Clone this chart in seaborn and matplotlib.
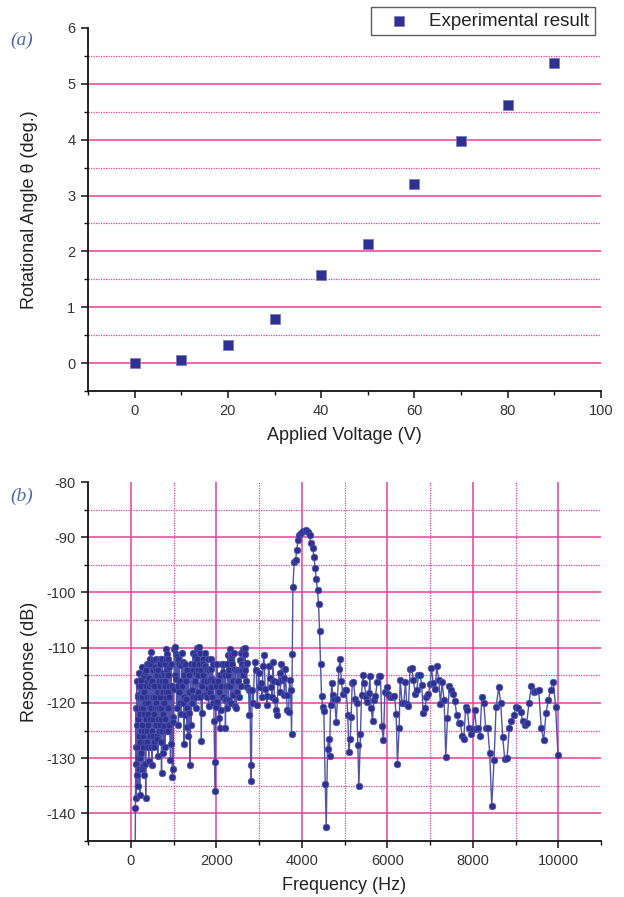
import matplotlib
matplotlib.use("Agg")
import matplotlib.pyplot as plt
import seaborn as sns
import pandas as pd
from matplotlib.ticker import FixedLocator

# ---------------- data: panel (a) ----------------
voltage = [0, 10, 20, 30, 40, 50, 60, 70, 80, 90]
angle = [0.0, 0.06, 0.32, 0.79, 1.58, 2.14, 3.20, 3.97, 4.63, 5.37]

# ---------------- data: panel (b) ----------------
freq_low = [100, 110, 120, 130, 140, 150, 160, 170, 180, 190, 200, 210, 220, 230, 240,
            250, 260, 270, 280, 290, 300, 310, 320, 330, 340, 350, 360, 370, 380, 390,
            400, 410, 420, 430, 440, 450, 460, 470, 480, 490, 500, 510, 520, 530, 540,
            550, 560, 570, 580, 590, 600, 610, 620, 630, 640, 650, 660, 670, 680, 690,
            700, 710, 720, 730, 740, 750, 760, 770, 780, 790, 800, 810, 820, 830, 840,
            850, 860, 870, 880, 890, 900, 927, 940, 951, 962, 974, 984, 990, 998, 1010,
            1020, 1029, 1040, 1052]
resp_low = [-150, -139.1, -121, -137.3, -116, -128, -118.5, -135.1, -119, -126, -114.5,
            -136.7, -122, -117, -129, -115.9, -124, -113.5, -131.5, -118, -133.1, -115,
            -125, -114.4, -120, -137.3, -117, -112.9, -127, -116, -122, -113, -130.5,
            -115.5, -121, -112, -126, -116.5, -110.8, -119, -131.3, -114, -123, -112.2,
            -127, -117, -113.5, -121, -115, -124, -112, -118, -126.5, -114, -129.7, -116,
            -112.8, -121, -117, -113, -123, -115, -132.7, -118, -112, -120, -114.5, -117,
            -124.2, -113, -127.9, -116, -119, -110.3, -114, -111.1, -118, -115, -121,
            -113.5, -119, -130.3, -112.9, -127.4, -117, -133.5, -122.5, -131.9, -123.4,
            -117.4, -110.2, -115, -109.9, -111.1]

freq_fill = [115, 125, 135, 145, 155, 165, 175, 185, 195, 205, 215, 225, 235, 245, 255,
             265, 275, 285, 295, 305, 315, 325, 335, 345, 355, 365, 375, 385, 395, 405,
             415, 425, 435, 445, 455, 465, 475, 485, 495, 505, 515, 525, 535, 545, 555,
             565, 575, 585, 595, 605, 615, 625, 635, 645, 655, 665, 675, 685, 695, 705,
             715, 725, 735, 745, 755, 765, 775, 785, 795, 805, 815, 825, 835, 845, 855,
             865, 875, 885, 895]
resp_fill = [-128, -131, -124, -133, -121, -130, -123, -132, -117, -127, -119, -130, -121,
             -125, -132, -119, -126, -121, -128, -122, -118, -127, -120, -131, -123, -114,
             -125, -119, -128, -120, -124, -117, -126, -119, -123, -113, -128, -121, -116,
             -125, -119, -126, -117, -122, -128, -119, -124, -114, -120, -126, -115, -121,
             -123, -118, -125, -116, -112, -124, -119, -127, -121, -116, -125, -118, -122,
             -129, -115, -120, -117, -123, -112, -125, -118, -121, -115, -125, -112, -117,
             -124]

freq_mid = [1067, 1085, 1106, 1125, 1145, 1184, 1200, 1223, 1247, 1262, 1286, 1309, 1325,
            1340, 1363, 1390, 1410, 1441, 1457, 1475, 1496, 1515, 1535, 1558, 1574, 1590,
            1613, 1636, 1652, 1667, 1691, 1714, 1730, 1753, 1775, 1792, 1810, 1823, 1846,
            1870, 1885, 1901, 1932, 1948, 1963, 1979, 2002, 2026, 2057, 2080, 2103, 2135,
            2166, 2197, 2215, 2235, 2258, 2275, 2290, 2314, 2336, 2353, 2367, 2391, 2414,
            2440, 2470, 2484, 2508, 2547, 2586, 2610, 2625, 2648, 2662, 2679, 2710, 2726,
            2757, 2772, 2790, 2805, 2819, 2840, 2866, 2897, 2936, 2959, 2991, 3022, 3053,
            3075, 3092, 3115, 3146, 3178, 3193, 3224, 3255, 3287, 3305, 3326, 3345, 3365,
            3388, 3419, 3442, 3481, 3500, 3520, 3544, 3575, 3595, 3614, 3645, 3660, 3692,
            3715, 3738, 3762, 3778]
resp_mid = [-115.6, -111.5, -112, -118, -120, -113.2, -117, -112.6, -127.5, -122.2, -119.2,
            -124.3, -114, -125.9, -121.9, -131.2, -124, -117.7, -110.9, -116, -111.5, -119,
            -114.6, -110, -114.1, -109.9, -110.9, -116.8, -126.9, -121.9, -112, -118.6,
            -113.4, -118.6, -116, -113.8, -117.5, -120.6, -115.9, -113.8, -117.1, -115.6,
            -120.1, -123.3, -130.7, -135.9, -120.7, -119.8, -122.8, -124.6, -121.3, -112.9,
            -114.4, -119.5, -124.5, -119.2, -113, -111.4, -119.5, -110.3, -111.2, -112.1,
            -111.4, -118.6, -113.8, -120.6, -121, -116, -114.1, -112.3, -111, -113, -110.3,
            -113.5, -110.1, -111.1, -112.8, -117.2, -117.7, -122.2, -117.7, -131.3, -134.1,
            -117.6, -120, -112.6, -114.1, -120.4, -114.6, -117.2, -116.4, -119, -113.4,
            -111.4, -117.4, -118.8, -120.4, -113.4, -115.4, -117.2, -119, -112.6, -116,
            -119.4, -121.3, -122.2, -116.2, -114.6, -118, -113, -115.8, -115.4, -118.5,
            -113.8, -118.6, -121.2, -121.6, -115.9, -117.6, -125.7, -111.2]

freq_mid_fill = [1075, 1095, 1115, 1135, 1155, 1175, 1192, 1212, 1235, 1255, 1275, 1298,
                 1318, 1352, 1372, 1400, 1425, 1450, 1466, 1486, 1505, 1525, 1545, 1565,
                 1582, 1600, 1625, 1645, 1660, 1680, 1700, 1722, 1742, 1762, 1783, 1800,
                 1835, 1858, 1877, 1893, 1915, 1940, 1990, 2015, 2040, 2068, 2090, 2120,
                 2150, 2180, 2205, 2225, 2248, 2268, 2282, 2300, 2325, 2345, 2360, 2380,
                 2402, 2425, 2455, 2495, 2520, 2535, 2560, 2575, 2598, 2636, 2668, 2690,
                 2700]
resp_mid_fill = [-121, -117, -124, -113, -116, -122, -111, -120, -115, -119, -113, -116,
                 -121, -115, -118, -113, -120, -114, -119, -113, -116, -121, -112, -118,
                 -115, -113, -119, -114, -117, -115, -113, -116, -111, -114, -119, -112,
                 -114, -118, -112, -119, -113, -116, -117, -113, -116, -118, -115, -117,
                 -119, -113, -115, -117, -121, -115, -117, -114, -117, -120, -116, -113,
                 -116, -111, -114, -118, -116, -119, -114, -117, -114, -115, -114, -116,
                 -113]

freq_peak = [3793, 3824, 3855, 3886, 3910, 3933, 3972, 4026, 4089, 4143, 4182, 4206, 4260,
             4283, 4315, 4339, 4369, 4393, 4416, 4439, 4463, 4493, 4516, 4549, 4572, 4603,
             4626, 4650, 4673, 4703, 4727, 4766, 4806, 4836, 4867, 4899, 4923, 4961, 5000,
             5040, 5077, 5100, 5133, 5156, 5180, 5210, 5250, 5287, 5311, 5336]
resp_peak = [-99.1, -94.4, -94.1, -92.3, -90.5, -89.6, -89.2, -88.8, -88.7, -89.0, -89.6,
             -91.1, -92.0, -93.5, -95.6, -97.6, -99.6, -102.1, -106.9, -113.0, -118.8,
             -120.7, -121.4, -134.7, -142.4, -128.3, -126.5, -129.6, -120.3, -116.4, -118.6,
             -119.2, -123.4, -119.2, -113.8, -112.0, -116.0, -118.3, -117.7, -117.6, -122.2,
             -128.9, -126.6, -122.5, -116.4, -116.2, -119.2, -120.1, -127.6, -135.1]

freq_high = [5374, 5398, 5429, 5460, 5507, 5538, 5569, 5593, 5624, 5655, 5686, 5725, 5764,
             5803, 5842, 5873, 5912, 5943, 5990, 6029, 6076, 6115, 6169, 6208, 6239, 6278,
             6302, 6348, 6387, 6426, 6457, 6496, 6535, 6574, 6613, 6652, 6691, 6730, 6769,
             6808, 6839, 6886, 6917, 6964, 7003, 7034, 7073, 7119, 7158, 7205, 7244, 7283,
             7330, 7369, 7408, 7454, 7493, 7532, 7579, 7626, 7673, 7712, 7750, 7789, 7836,
             7875, 7914, 7953, 8000, 8046, 8085, 8132, 8171, 8210, 8257, 8303, 8350, 8397,
             8444, 8498, 8545, 8607, 8654, 8701, 8747, 8802, 8856, 8903, 8958, 9012, 9067,
             9121, 9168, 9215, 9262, 9316, 9371, 9425, 9480, 9542, 9604, 9659, 9713, 9768,
             9822, 9885, 9939, 9994]
resp_high = [-125.7, -118.6, -115.0, -116.4, -118.9, -119.8, -118.2, -115.2, -121.0, -123.3,
             -119.5, -118.8, -116.2, -115.2, -115.2, -124.2, -126.8, -118.0, -117.2, -118.3,
             -119.0, -118.9, -118.8, -122.0, -131.1, -124.5, -115.8, -120.1, -120.1, -116.2,
             -120.2, -120.6, -113.8, -113.7, -115.9, -118.3, -117.7, -115.0, -115.0, -116.8,
             -121.8, -121.0, -118.9, -118.4, -116.6, -113.6, -116.4, -117.4, -113.4, -115.9,
             -120.2, -116.2, -119.5, -129.8, -122.8, -117.0, -117.6, -118.4, -119.6, -122.2,
             -123.6, -123.7, -126.0, -126.5, -120.8, -121.2, -124.5, -125.7, -124.8, -121.2,
             -124.8, -124.6, -126.0, -119.0, -120.0, -124.5, -124.6, -129.1, -138.7, -130.4,
             -120.8, -117.2, -120.1, -126.2, -130.1, -129.9, -124.6, -123.3, -122.2, -120.8,
             -121.0, -121.6, -123.3, -124.0, -123.6, -120.0, -117.0, -118.0, -117.8, -117.6,
             -124.6, -126.8, -121.9, -119.4, -117.6, -116.2, -120.8, -129.5]

# ticks
a_xmajor = [0, 20, 40, 60, 80, 100]
a_xminor = [-10, 10, 30, 50, 70, 90]
a_ymajor = [0, 1, 2, 3, 4, 5, 6]
a_yminor = [-0.5, 0.5, 1.5, 2.5, 3.5, 4.5, 5.5]
b_xmajor = [0, 2000, 4000, 6000, 8000, 10000]
b_xminor = [-1000, 1000, 3000, 5000, 7000, 9000, 11000]
b_ymajor = [-80, -90, -100, -110, -120, -130, -140]
b_yminor = [-85, -95, -105, -115, -125, -135, -145]

df_a = pd.DataFrame({"voltage": voltage, "angle": angle})
df_b = pd.DataFrame({
    "freq": freq_low + freq_fill + freq_mid + freq_mid_fill + freq_peak + freq_high,
    "resp": resp_low + resp_fill + resp_mid + resp_mid_fill + resp_peak + resp_high,
}).sort_values("freq").reset_index(drop=True)

sns.set_theme(style="ticks")
plt.rcParams["font.family"] = ["Liberation Sans", "DejaVu Sans"]
plt.rcParams["axes.unicode_minus"] = False

GRID = "#e8409a"
BLUE = "#2e3192"
TXT = "#222222"

fig = plt.figure(figsize=(6.24, 8.97), dpi=100)
W, H = 624, 897


def box(l, t, r, b):
    return [l / W, 1 - b / H, (r - l) / W, (b - t) / H]


def style(ax):
    for s in ["top", "right"]:
        ax.spines[s].set_visible(False)
    for s in ["left", "bottom"]:
        ax.spines[s].set_linewidth(1.3)
        ax.spines[s].set_color("#111111")
        ax.spines[s].set_zorder(5)
    ax.tick_params(which="major", direction="out", length=5, width=1.1,
                   color="#111111", labelsize=10.5, labelcolor="#333333", pad=4)
    ax.tick_params(which="minor", direction="out", length=3, width=1.0,
                   color="#111111")
    ax.grid(False)


# ---------------- panel (a) ----------------
ax1 = fig.add_axes(box(88, 28, 601, 391))
ax1.set_xlim(-10, 100)
ax1.set_ylim(-0.5, 6)
for y in a_ymajor:
    if -0.5 < y < 6:
        ax1.axhline(y, color=GRID, lw=1.1, zorder=1)
for y in a_yminor:
    if -0.5 < y < 6:
        ax1.axhline(y, color=GRID, lw=0.9, ls=(0, (1, 1)), zorder=1)
sns.scatterplot(data=df_a, x="voltage", y="angle", marker="s", s=52, color=BLUE,
                edgecolor="#7a7cc0", linewidth=0.6, ax=ax1, zorder=4,
                label="Experimental result")
ax1.xaxis.set_major_locator(FixedLocator(a_xmajor))
ax1.xaxis.set_minor_locator(FixedLocator(a_xminor))
ax1.yaxis.set_major_locator(FixedLocator(a_ymajor))
ax1.yaxis.set_minor_locator(FixedLocator(a_yminor))
style(ax1)
ax1.set_xlabel("Applied Voltage (V)", fontsize=13, color=TXT, labelpad=7)
ax1.set_ylabel("Rotational Angle θ (deg.)", fontsize=13, color=TXT)
ax1.yaxis.set_label_coords(-0.097, 0.5)
leg = ax1.legend(loc="upper left", bbox_to_anchor=(371 / W, 1 - 7 / H),
                 bbox_transform=fig.transFigure, frameon=True, fancybox=False,
                 fontsize=13.5, borderpad=0.3, handlelength=2.4, handletextpad=0.4,
                 borderaxespad=0)
leg.get_frame().set_edgecolor("#333333")
leg.get_frame().set_linewidth(1.0)
leg.set_zorder(10)
for t in leg.get_texts():
    t.set_color(TXT)

# ---------------- panel (b) ----------------
ax2 = fig.add_axes(box(88, 482, 601, 841))
ax2.set_xlim(-1000, 11000)
ax2.set_ylim(-145, -80)
for y in b_ymajor:
    if -145 < y < -80:
        ax2.axhline(y, color=GRID, lw=1.1, zorder=1)
for y in b_yminor:
    if -145 < y < -80:
        ax2.axhline(y, color=GRID, lw=0.9, ls=(0, (1, 1)), zorder=1)
for x in b_xmajor:
    if 0 <= x <= 10000:
        ax2.axvline(x, color=GRID, lw=1.1, zorder=1)
for x in b_xminor:
    if 0 <= x <= 10000:
        ax2.axvline(x, color=GRID, lw=0.9, ls=(0, (1, 1)), zorder=1)
sns.lineplot(data=df_b, x="freq", y="resp", sort=False, estimator=None, ax=ax2,
             color="#4f53aa", lw=1.0, marker="o", markersize=4.8,
             markerfacecolor=BLUE, markeredgecolor="#5257ad", markeredgewidth=0.5,
             zorder=3)
ax2.xaxis.set_major_locator(FixedLocator(b_xmajor))
ax2.xaxis.set_minor_locator(FixedLocator(b_xminor))
ax2.yaxis.set_major_locator(FixedLocator(b_ymajor))
ax2.yaxis.set_minor_locator(FixedLocator(b_yminor))
style(ax2)
ax2.set_xlabel("Frequency (Hz)", fontsize=13, color=TXT, labelpad=7)
ax2.set_ylabel("Response (dB)", fontsize=13, color=TXT)
ax2.yaxis.set_label_coords(-0.097, 0.5)

# panel letters
for txt, ypx in [("(a)", 40), ("(b)", 496)]:
    fig.text(22 / W, 1 - ypx / H, txt, ha="center", va="center", fontsize=14,
             fontstyle="italic", family=["Liberation Serif", "DejaVu Serif"],
             color="#4a67b0")

fig.savefig("out.png", dpi=100)
